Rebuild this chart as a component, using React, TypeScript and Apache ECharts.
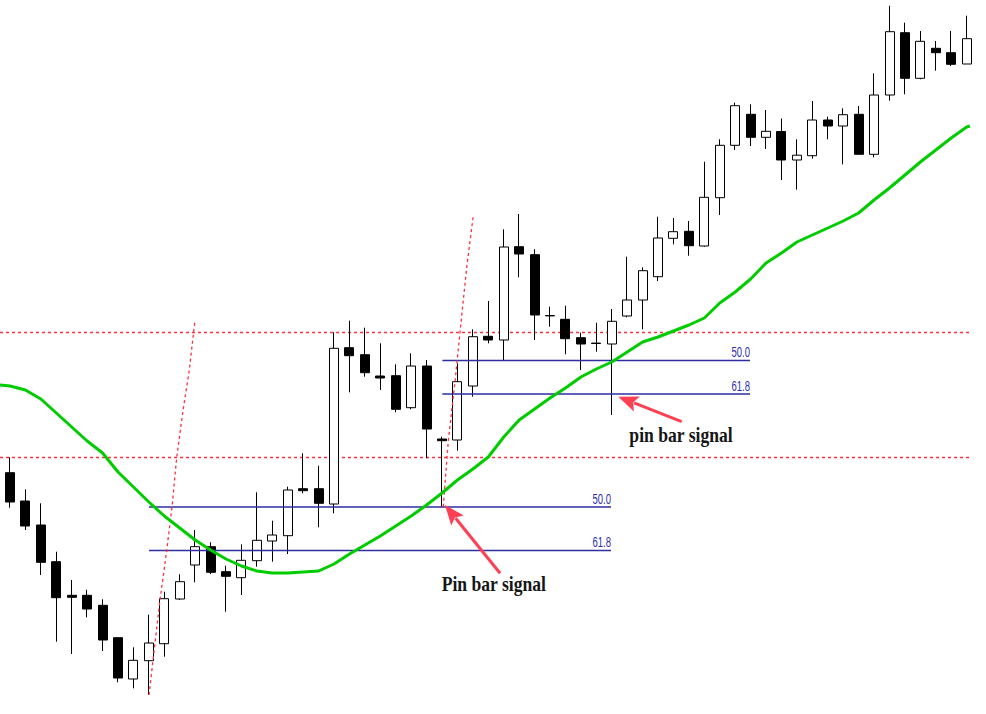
import React, { useEffect, useRef } from "react";
import * as echarts from "echarts";

// Candles (price units, higher = up)
const opens = [
  241.3, 213, 189, 152.3, 118.7, 118.7, 108.7, 76.3, 35, 53.3,
  70.3, 115, 149, 167.3, 142.3, 136.3, 153.3, 173, 178.3, 225.3,
  225.3, 210, 366.3, 359.3, 338, 338.3, 306.3, 348, 275, 274,
  328, 377.7, 374, 467.3, 459.3, 398.5, 394.7, 376.3, 370.9, 370,
  398, 414, 437.3, 475.7, 482.7, 468, 516.3, 568.7, 599.7, 576.7,
  582.5, 554, 558.3, 594, 588, 599.7, 559.7, 619, 681.3, 635.7,
  665.7, 661.3, 650,
];
const closes = [
  212, 188, 151.7, 116.3, 116.7, 105, 74, 36, 53.7, 71,
  115.3, 132.3, 167.3, 141.7, 137.7, 153.7, 173.7, 179, 224, 223.3,
  210.7, 365.7, 358.3, 341.3, 336, 304.7, 348, 285, 273.3, 332.3,
  377.3, 374, 467, 460, 399, 398.1, 375.3, 370, 370.5, 392.7,
  414, 443.3, 476, 482.3, 468.3, 516.7, 568.7, 608.3, 576.7, 582.7,
  554, 558.8, 594, 588, 599.3, 559.7, 619, 682.3, 635.7, 672.7,
  661.3, 649.7, 675.3,
];
const highs = [
  256.7, 224.7, 210.7, 162.3, 134, 124.3, 114.7, 76.3, 66.7, 99.3,
  122.3, 139.7, 184, 171.7, 148.3, 169.7, 221.7, 193.3, 227.3, 260.7,
  248.3, 381.7, 393.3, 386.3, 370.7, 349.7, 360.7, 354, 277.3, 350.7,
  384.7, 413, 484.7, 500, 464.7, 407.3, 408.3, 381.3, 391.3, 405,
  457.3, 446.7, 497.3, 496, 493, 552.3, 574.7, 611.3, 609.7, 604,
  595.5, 574.7, 613, 597.3, 605.7, 608, 640.7, 708.3, 691.3, 683,
  673, 683, 698.3,
];
const lows = [
  206.3, 184, 139, 72.3, 60, 96.7, 63, 31.7, 25.7, 19,
  57.3, 114, 131.7, 140, 102.3, 119, 147.3, 152.3, 160, 220.7,
  186.7, 200.7, 321.7, 337.3, 324, 301.7, 304.7, 255.7, 207.3, 263.3,
  317.3, 370.7, 353.3, 436.7, 374, 387.3, 359.7, 344, 362.3, 299,
  396.7, 384.7, 433, 469.7, 458.3, 467.3, 499, 564, 568, 565,
  534, 524.3, 555.3, 574.7, 549.7, 559.7, 556.7, 613.3, 619.7, 634.7,
  643.3, 648, 650,
];

// Moving average (one value per candle) and its values at the chart's edges
const ma = [
  328, 324, 315, 301, 287, 273, 261, 242, 227, 212,
  198, 186, 174, 164, 155, 148, 143, 141, 141, 142,
  143, 150, 160, 169, 178, 188, 198, 209, 221, 234,
  245, 257, 277, 294, 305, 316, 326, 337, 345, 352,
  362, 372, 377, 383, 389, 396, 411, 422, 435, 451,
  461, 472, 479, 486, 493, 501, 514, 526, 539, 552,
  564, 576, 587,
];
const maLeftEdge = 329;
const maRightEdge = 588;

// Horizontal support / resistance levels
const srLevels = [381.5, 256.5];

// Fibonacci retracements
const fibLabels = ["50.0", "61.8"];
const fibLowerSpan = [9.01, 38.95];
const fibLowerLevels = [207, 163.5];
const fibUpperSpan = [28.02, 47.96];
const fibUpperLevels = [353.5, 320];

// Dotted curves from the swing lows
const curveA = [
  [9.01, 19], [9.27, 54], [9.72, 114], [10.16, 164], [10.5, 207],
  [10.8, 256], [11.19, 301], [11.62, 344], [11.99, 394],
];
const curveB = [
  [28.08, 207.3], [28.41, 274], [28.84, 332.3], [29.16, 381], [29.6, 447], [30.03, 499],
];

// Arrows: [tailX, tailY, tipX, tipY]
const arrows = [
  [31.76, 140.7, 28.19, 209],
  [43.53, 292.3, 39.42, 317.3],
];

// Signal captions: text and anchor (left, middle)
const signalTexts = ["Pin bar signal", "pin bar signal"];
const signalAnchors = [
  [27.98, 130.7],
  [40.14, 280],
];

const X_MIN = -0.648;
const X_MAX = 62.217;
const RED = "#ff2f3f";
const NAVY = "#2e2ea0";

export default function App() {
  const ref = useRef<HTMLDivElement>(null);

  useEffect(() => {
    if (!ref.current) return;
    const chart = echarts.init(ref.current, undefined, { renderer: "svg" });

    const candleData = opens.map((o, i) => [i, o, closes[i], lows[i], highs[i]]);
    const maData = [[X_MIN, maLeftEdge], ...ma.map((v, i) => [i, v]), [X_MAX, maRightEdge]];

    const levelSeries = srLevels.map((v) => ({
      type: "line",
      data: [[X_MIN, v], [X_MAX, v]],
      symbol: "none",
      silent: true,
      lineStyle: { color: RED, width: 1.5, type: [3, 3] },
      z: 1,
    }));

    const fibSeries: any[] = [];
    const fibLabelData: number[][] = [];
    const fibLabelText: string[] = [];
    [
      [fibLowerSpan, fibLowerLevels],
      [fibUpperSpan, fibUpperLevels],
    ].forEach(([span, levels]) => {
      levels.forEach((lv, k) => {
        fibSeries.push({
          type: "line",
          data: [[span[0], lv], [span[1], lv]],
          symbol: "none",
          silent: true,
          lineStyle: { color: NAVY, width: 1.5 },
          z: 3,
        });
        fibLabelData.push([span[1], lv]);
        fibLabelText.push(fibLabels[k]);
      });
    });

    const curveSeries = [curveA, curveB].map((c) => ({
      type: "line",
      data: c,
      symbol: "none",
      silent: true,
      lineStyle: { color: RED, width: 1.3, type: [3, 3] },
      z: 4,
    }));

    chart.setOption({
      animation: false,
      backgroundColor: "#ffffff",
      grid: { left: 0, right: 16, top: 0, bottom: 0 },
      xAxis: { type: "value", min: X_MIN, max: X_MAX, show: false },
      yAxis: { type: "value", min: 0, max: 714, show: false },
      series: [
        ...levelSeries,
        {
          type: "candlestick",
          data: candleData,
          barWidth: 9.5,
          clip: true,
          itemStyle: {
            color: "#ffffff",
            color0: "#000000",
            borderColor: "#000000",
            borderColor0: "#000000",
            borderWidth: 1,
          },
          z: 2,
        },
        ...fibSeries,
        {
          type: "line",
          data: maData,
          symbol: "none",
          silent: true,
          lineStyle: { color: "#00cc00", width: 3 },
          z: 5,
        },
        ...curveSeries,
        {
          type: "custom",
          data: fibLabelData,
          silent: true,
          z: 6,
          renderItem: (params: any, api: any) => {
            const p = api.coord([api.value(0), api.value(1)]);
            return {
              type: "text",
              x: p[0],
              y: p[1] - 8,
              scaleX: 0.68,
              style: {
                text: fibLabelText[params.dataIndex],
                x: 0,
                y: 0,
                fontSize: 14,
                fontFamily: '"Liberation Sans", Arial, sans-serif',
                fill: "#2c2cb0",
                align: "right",
                verticalAlign: "middle",
              },
            };
          },
        },
        {
          type: "custom",
          data: arrows,
          silent: true,
          z: 7,
          renderItem: (params: any, api: any) => {
            const p1 = api.coord([api.value(0), api.value(1)]);
            const p2 = api.coord([api.value(2), api.value(3)]);
            const dx = p2[0] - p1[0];
            const dy = p2[1] - p1[1];
            const len = Math.hypot(dx, dy) || 1;
            const ux = dx / len;
            const uy = dy / len;
            const headLen = 20;
            const half = 8;
            const bx = p2[0] - ux * headLen;
            const by = p2[1] - uy * headLen;
            return {
              type: "group",
              children: [
                {
                  type: "line",
                  shape: { x1: p1[0], y1: p1[1], x2: bx + ux * 3, y2: by + uy * 3 },
                  style: { stroke: "#ff4052", lineWidth: 3 },
                },
                {
                  type: "polygon",
                  shape: {
                    points: [
                      [p2[0], p2[1]],
                      [bx - uy * half, by + ux * half],
                      [bx + ux * 4, by + uy * 4],
                      [bx + uy * half, by - ux * half],
                    ],
                  },
                  style: { fill: "#ff4052" },
                },
              ],
            };
          },
        },
        {
          type: "custom",
          data: signalAnchors,
          silent: true,
          z: 8,
          renderItem: (params: any, api: any) => {
            const p = api.coord([api.value(0), api.value(1)]);
            return {
              type: "text",
              x: p[0],
              y: p[1],
              scaleX: 0.8,
              style: {
                text: signalTexts[params.dataIndex],
                x: 0,
                y: 0,
                fontSize: 22,
                fontWeight: "bold",
                fontFamily: '"Liberation Serif", "Times New Roman", serif',
                fill: "#161616",
                align: "left",
                verticalAlign: "middle",
              },
            };
          },
        },
      ],
    });

    return () => chart.dispose();
  }, []);

  return (
    <div
      ref={ref}
      style={{ position: "absolute", left: 0, top: 0, width: 986, height: 714, background: "#fff" }}
    />
  );
}
